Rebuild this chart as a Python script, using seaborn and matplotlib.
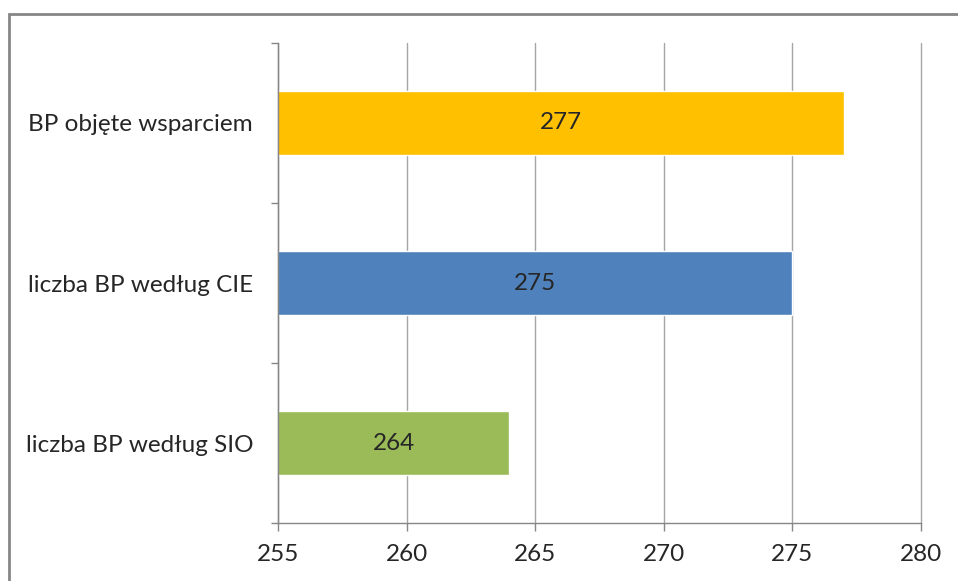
import matplotlib
matplotlib.use("Agg")
import matplotlib.pyplot as plt
import matplotlib.patches as mpatches
import seaborn as sns
import pandas as pd

categories = ["BP objęte wsparciem", "liczba BP według CIE", "liczba BP według SIO"]
values = [277, 275, 264]
colors = ["#FFC000", "#4F81BD", "#9BBB59"]
x_ticks = [255, 260, 265, 270, 275, 280]

sns.set_theme(style="white")
plt.rcParams["font.family"] = ["Lato", "DejaVu Sans"]

df = pd.DataFrame({"kategoria": categories, "wartosc": values})

fig = plt.figure(figsize=(9.58, 5.81), dpi=100)
ax = fig.add_axes([0.2902, 0.0998, 0.9614 - 0.2902, 0.926 - 0.0998])

sns.barplot(data=df, y="kategoria", x="wartosc", hue="kategoria",
            palette=colors, orient="h", width=0.4, saturation=1,
            legend=False, ax=ax, zorder=3)

ax.set_xlim(x_ticks[0], x_ticks[-1])
ax.set_ylim(len(categories) - 0.5, -0.5)
ax.set_xticks(x_ticks)
ax.set_xticklabels([str(t) for t in x_ticks], fontsize=17.5, color="#262626")
ax.set_yticks(range(len(categories)), minor=False)
ax.set_yticks([i - 0.5 for i in range(len(categories) + 1)], minor=True)
ax.tick_params(axis="y", which="major", left=True, labelsize=17.5,
               labelcolor="#262626", length=0, pad=18)
ax.tick_params(axis="y", which="minor", left=True, length=5, width=1,
               color="#868686", direction="out")
ax.tick_params(axis="x", bottom=True, length=6, width=1, color="#868686",
               direction="out", pad=9)
ax.set_xlabel("")
ax.set_ylabel("")

ax.grid(axis="x", color="#A6A6A6", linewidth=1, zorder=0, clip_on=False)
ax.set_axisbelow(True)
for side in ["top", "right"]:
    ax.spines[side].set_visible(False)
for side in ["left", "bottom"]:
    ax.spines[side].set_color("#868686")
    ax.spines[side].set_linewidth(1)
    ax.spines[side].set_zorder(4)

# value labels centred in the visible portion of each bar
for i, v in enumerate(values):
    ax.text((x_ticks[0] + v) / 2, i, str(v), ha="center", va="center",
            fontsize=17.5, color="#262626", zorder=5)

# outer chart frame
frame = mpatches.Rectangle((8.5 / 958, -0.1), 1.2, 1 - 14 / 581 + 0.1,
                           transform=fig.transFigure, fill=False,
                           edgecolor="#868686", linewidth=2, clip_on=False)
fig.patches.append(frame)

fig.savefig("out.png", dpi=100, facecolor="white")
